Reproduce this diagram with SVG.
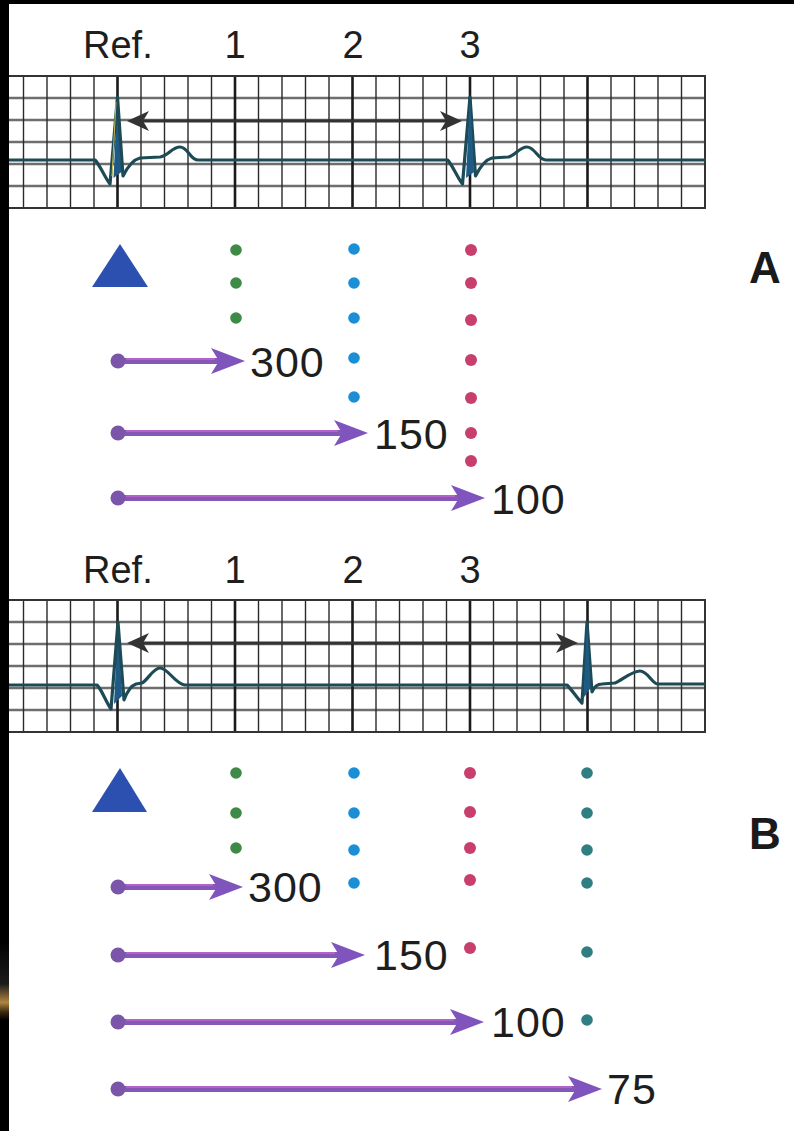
<svg xmlns="http://www.w3.org/2000/svg" width="794" height="1131" viewBox="0 0 794 1131">
<style>
.lbl{font-family:"Liberation Sans",Arial,sans-serif;font-size:38px;fill:#1e1e1e}
.num{font-family:"Liberation Sans",Arial,sans-serif;font-size:43px;fill:#1e1e1e;letter-spacing:1px}
.big{font-family:"Liberation Sans",Arial,sans-serif;font-size:44px;font-weight:bold;fill:#1a1a1a;text-anchor:middle}
.vmin{stroke:#2a2a2a;stroke-width:1.4;fill:none}
.vmaj{stroke:#1a1a1a;stroke-width:2.6;fill:none}
.hl{stroke:#6e6e6e;stroke-width:2.4;fill:none}
.border{stroke:#333;stroke-width:2;fill:none}
.ecg{stroke:#1d4b55;stroke-width:3.2;fill:none;stroke-linejoin:round}
.spike{fill:#1e5a85}
.rr{stroke:#333;stroke-width:3;fill:none;marker-start:url(#dh);marker-end:url(#dh)}
.pa{stroke:#8558b8;stroke-width:6;fill:none;marker-start:url(#pc);marker-end:url(#ph)}
.ph{stroke:#cc6ad4;stroke-width:1.3;fill:none;opacity:.85}
.g{fill:#3e8a47}.b{fill:#1b8fd6}.p{fill:#c83f6e}.t{fill:#2f7e82}
.tri{fill:#2b50b0}
</style>
<defs>
<marker id="dh" viewBox="0 0 22 20" refX="6" refY="10" markerWidth="22" markerHeight="20" markerUnits="userSpaceOnUse" orient="auto-start-reverse">
<path d="M0 0 L22 10 L0 20 L6 10 Z" fill="#333"/>
</marker>
<marker id="ph" viewBox="0 0 34 26" refX="8" refY="13" markerWidth="34" markerHeight="26" markerUnits="userSpaceOnUse" orient="auto">
<path d="M0 0 L34 13 L0 26 L8 13 Z" fill="#7f55bd"/>
</marker>
<marker id="pc" viewBox="0 0 16 16" refX="8" refY="8" markerWidth="16" markerHeight="16" markerUnits="userSpaceOnUse">
<circle cx="8" cy="8" r="7.5" fill="#7b55aa"/>
</marker>
<g id="grid">
<path class="hl" d="M0 98H705M0 120H705M0 142H705M0 164H705M0 186H705"/>
<path class="vmin" d="M23.5 76V208M47 76V208M70.5 76V208M94 76V208M141 76V208M164.5 76V208M188 76V208M211.5 76V208M258.5 76V208M282 76V208M305.5 76V208M329 76V208M376 76V208M399.5 76V208M423 76V208M446.5 76V208M493.5 76V208M517 76V208M540.5 76V208M564 76V208M611 76V208M634.5 76V208M658 76V208M681.5 76V208"/>
<path class="vmaj" d="M117.5 76V208M235 76V208M352.5 76V208M470 76V208M587.5 76V208"/>
<rect class="border" x="-2" y="76" width="707" height="132"/>
</g>
<linearGradient id="glint" x1="0" y1="0" x2="0" y2="1">
<stop offset="0" stop-color="#000"/>
<stop offset="0.55" stop-color="#1c1c1c"/>
<stop offset="0.78" stop-color="#b08540"/>
<stop offset="0.9" stop-color="#3a2a10"/>
<stop offset="1" stop-color="#000"/>
</linearGradient>
</defs>
<rect width="794" height="1131" fill="#fff"/>

<g id="stripA">
<use href="#grid"/>
<path class="spike" d="M113.5 178 L117.5 97 L121.5 172 Z"/>
<path class="ecg" d="M9 160 L95 160 C100 165 105 178 110 184 L117.5 97 L123 176 C127 168 132 160 140 158 L160 157 C168 156 172 147 180 147 C188 147 190 160 198 160 L447.5 160 C452.5 165 457.5 178 462.5 184 L470 97 L475.5 176 C479.5 168 484.5 160 492 158 L508 157 C515 156 519 147 527 147 C535 147 538 160 546 160 L705 160"/>
<path class="spike" d="M466 178 L470 97 L474 172 Z"/>
<path d="M116 102 L112 176" stroke="#d9c650" stroke-width="0.9" fill="none"/>
<text class="lbl" x="83" y="58">Ref.</text>
<text class="lbl" x="235" y="58" text-anchor="middle">1</text>
<text class="lbl" x="353" y="58" text-anchor="middle">2</text>
<text class="lbl" x="470" y="58" text-anchor="middle">3</text>
</g>

<g id="stripB">
<use href="#grid" transform="translate(0,524)"/>
<path class="spike" d="M114 704 L118 622 L122 696 Z"/>
<path class="ecg" d="M9 685 L97 685 C102 690 106 702 111 709 L118 622 L124 700 C127 692 130 686 136 684 L142 683 C148 680 153 668 160 668 C168 668 175 684 185 685 L567 685 C572 690 577 698 582 703 L587 622 L592 692 C594 687 597 684 602 684 L615 683 C622 680 632 671 640 671 C648 671 652 684 658 684 L705 684"/>
<path class="spike" d="M583.5 698 L587 622 L590.5 688 Z"/>
<text class="lbl" x="83" y="583">Ref.</text>
<text class="lbl" x="235" y="583" text-anchor="middle">1</text>
<text class="lbl" x="353" y="583" text-anchor="middle">2</text>
<text class="lbl" x="470" y="583" text-anchor="middle">3</text>
</g>

<g id="connectors">
<line class="rr" x1="143" y1="121" x2="446" y2="121"/>
<line class="rr" x1="143" y1="643" x2="562" y2="643"/>
<line class="pa" x1="118" y1="361" x2="219" y2="361"/>
<line class="pa" x1="118" y1="433" x2="342" y2="433"/>
<line class="pa" x1="118" y1="498" x2="459" y2="498"/>
<line class="pa" x1="118" y1="887" x2="217" y2="887"/>
<line class="pa" x1="118" y1="955" x2="339" y2="955"/>
<line class="pa" x1="118" y1="1022" x2="458" y2="1022"/>
<line class="pa" x1="118" y1="1089" x2="576" y2="1089"/>
<path class="ph" d="M126 359H215M126 431H338M126 496H455M126 885H213M126 953H335M126 1020H454M126 1087H572"/>
</g>

<g id="panelA">
<polygon class="tri" points="120,244 148,287 92,287"/>
<circle class="g" cx="236" cy="250" r="5.8"/><circle class="g" cx="236" cy="283" r="5.8"/><circle class="g" cx="236" cy="318" r="5.8"/>
<circle class="b" cx="354" cy="249" r="5.8"/><circle class="b" cx="354" cy="283" r="5.8"/><circle class="b" cx="354" cy="318" r="5.8"/><circle class="b" cx="354" cy="358" r="5.8"/><circle class="b" cx="354" cy="397" r="5.8"/>
<circle class="p" cx="471" cy="250" r="6"/><circle class="p" cx="471" cy="283" r="6"/><circle class="p" cx="471" cy="320" r="6"/><circle class="p" cx="471" cy="360" r="6"/><circle class="p" cx="471" cy="398" r="6"/><circle class="p" cx="471" cy="433" r="6"/><circle class="p" cx="471" cy="461" r="6"/>
<text class="num" x="250" y="377">300</text>
<text class="num" x="374" y="449">150</text>
<text class="num" x="491" y="514">100</text>
<text class="big" x="765" y="283">A</text>
</g>

<g id="panelB">
<polygon class="tri" points="120,768 147,812 92,812"/>
<circle class="g" cx="236" cy="773" r="5.8"/><circle class="g" cx="236" cy="813" r="5.8"/><circle class="g" cx="236" cy="848" r="5.8"/>
<circle class="b" cx="354" cy="773" r="5.8"/><circle class="b" cx="354" cy="813" r="5.8"/><circle class="b" cx="354" cy="850" r="5.8"/><circle class="b" cx="354" cy="883" r="5.8"/>
<circle class="p" cx="470" cy="773" r="6"/><circle class="p" cx="470" cy="812" r="6"/><circle class="p" cx="470" cy="848" r="6"/><circle class="p" cx="470" cy="880" r="6"/><circle class="p" cx="470" cy="948" r="6"/>
<circle class="t" cx="587" cy="773" r="5.8"/><circle class="t" cx="587" cy="813" r="5.8"/><circle class="t" cx="587" cy="850" r="5.8"/><circle class="t" cx="587" cy="883" r="5.8"/><circle class="t" cx="587" cy="952" r="5.8"/><circle class="t" cx="587" cy="1020" r="5.8"/>
<text class="num" x="248" y="902">300</text>
<text class="num" x="374" y="970">150</text>
<text class="num" x="491" y="1037">100</text>
<text class="num" x="607" y="1104">75</text>
<text class="big" x="765" y="849">B</text>
</g>

<rect x="0" y="0" width="794" height="4" fill="#000"/>
<rect x="0" y="0" width="9" height="1131" fill="#000"/>
<rect x="0" y="940" width="9" height="80" fill="url(#glint)"/>
</svg>
